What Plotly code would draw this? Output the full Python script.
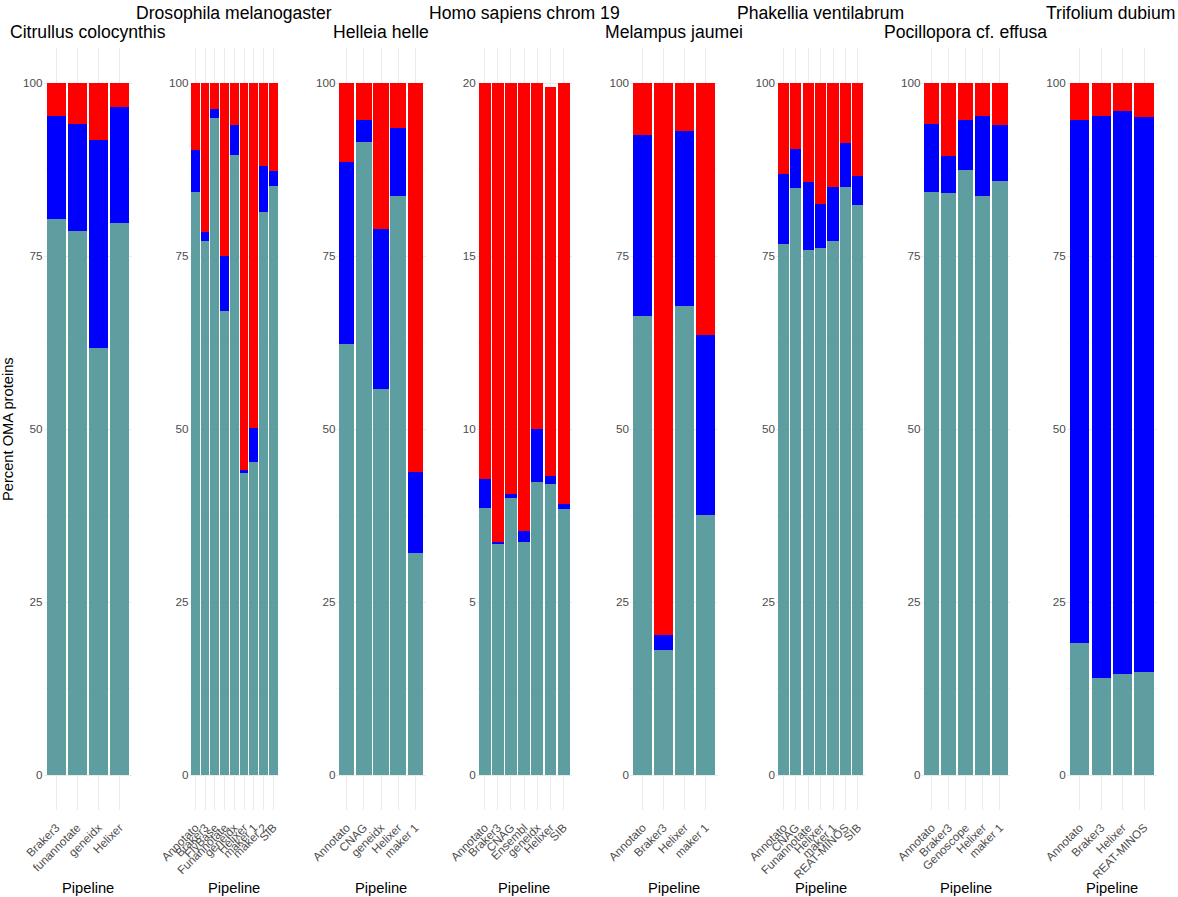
import plotly.graph_objects as go
from plotly.subplots import make_subplots

# segments per pipeline: single (teal), duplicated (blue), missing (red)
citrullus_pipelines = ["Braker3", "funannotate", "geneidx", "Helixer"]
citrullus_single = [80.3, 78.6, 61.7, 79.8]
citrullus_dup = [14.9, 15.5, 30.1, 16.7]
citrullus_miss = [4.8, 5.9, 8.2, 3.5]

drosophila_pipelines = ["Annotato", "Braker3", "FlyBase", "Funannotate", "geneidx",
                        "Helixer", "maker 1", "maker 2", "SIB"]
drosophila_single = [84.3, 77.2, 94.9, 67.0, 89.6, 43.7, 45.3, 81.4, 85.1]
drosophila_dup = [6.0, 1.2, 1.3, 8.0, 4.4, 0.4, 4.9, 6.6, 2.2]
drosophila_miss = [9.7, 21.6, 3.8, 25.0, 6.0, 55.9, 49.8, 12.0, 12.7]

helleia_pipelines = ["Annotato", "CNAG", "geneidx", "Helixer", "maker 1"]
helleia_single = [62.3, 91.5, 55.8, 83.6, 32.1]
helleia_dup = [26.3, 3.2, 23.1, 9.9, 11.7]
helleia_miss = [11.4, 5.3, 21.1, 6.5, 56.2]

homo_pipelines = ["Annotato", "Braker3", "CNAG", "Ensembl", "geneidx", "Helixer", "SIB"]
homo_single = [7.73, 6.67, 8.01, 6.73, 8.47, 8.40, 7.68]
homo_dup = [0.82, 0.06, 0.12, 0.31, 1.54, 0.25, 0.14]
homo_miss = [11.45, 13.27, 11.87, 12.96, 9.99, 11.23, 12.18]

melampus_pipelines = ["Annotato", "Braker3", "Helixer", "maker 1"]
melampus_single = [66.4, 18.0, 67.8, 37.6]
melampus_dup = [26.1, 2.3, 25.2, 26.0]
melampus_miss = [7.5, 79.7, 7.0, 36.4]

phakellia_pipelines = ["Annotato", "CNAG", "Funannotate", "Helixer", "maker 1",
                       "REAT-MINOS", "SIB"]
phakellia_single = [76.8, 84.8, 75.9, 76.2, 77.2, 85.0, 82.4]
phakellia_dup = [10.0, 5.7, 9.8, 6.3, 7.7, 6.3, 4.1]
phakellia_miss = [13.2, 9.5, 14.3, 17.5, 15.1, 8.7, 13.5]

pocillopora_pipelines = ["Annotato", "Braker3", "Genoscope", "Helixer", "maker 1"]
pocillopora_single = [84.3, 84.1, 87.4, 83.6, 85.8]
pocillopora_dup = [9.8, 5.4, 7.3, 11.7, 8.2]
pocillopora_miss = [5.9, 10.5, 5.3, 4.7, 6.0]

trifolium_pipelines = ["Annotato", "Braker3", "Helixer", "REAT-MINOS"]
trifolium_single = [19.1, 14.0, 14.6, 14.9]
trifolium_dup = [75.6, 81.3, 81.3, 80.2]
trifolium_miss = [5.3, 4.7, 4.1, 4.9]

panels = [
    ("Citrullus colocynthis", citrullus_pipelines, citrullus_single, citrullus_dup, citrullus_miss, 100),
    ("Drosophila melanogaster", drosophila_pipelines, drosophila_single, drosophila_dup, drosophila_miss, 100),
    ("Helleia helle", helleia_pipelines, helleia_single, helleia_dup, helleia_miss, 100),
    ("Homo sapiens chrom 19", homo_pipelines, homo_single, homo_dup, homo_miss, 20),
    ("Melampus jaumei", melampus_pipelines, melampus_single, melampus_dup, melampus_miss, 100),
    ("Phakellia ventilabrum", phakellia_pipelines, phakellia_single, phakellia_dup, phakellia_miss, 100),
    ("Pocillopora cf. effusa", pocillopora_pipelines, pocillopora_single, pocillopora_dup, pocillopora_miss, 100),
    ("Trifolium dubium", trifolium_pipelines, trifolium_single, trifolium_dup, trifolium_miss, 100),
]

W, H = 1178, 897
FONT = "Liberation Sans, Arial, Helvetica, sans-serif"
panel_px = [(43.5, 132.2), (189.5, 279.2), (336.4, 425.6), (476.7, 571.5),
            (630.1, 718.0), (776.1, 865.2), (921.4, 1010.1), (1066.8, 1157.0)]
y_top_px, y_bot_px = 48.4, 809.6


def px_x(v):
    return v / W


def px_y(v):
    return 1 - v / H


colors = {"Single": "#5F9EA0", "Duplicated": "#0000FF", "Missing": "#FF0000"}

fig = make_subplots(rows=1, cols=len(panels))
annotations = []

for i, (title, pipes, single, dup, miss, ymax) in enumerate(panels, start=1):
    for label, vals in [("Single", single), ("Duplicated", dup), ("Missing", miss)]:
        fig.add_trace(go.Bar(x=pipes, y=vals, name=label, marker_color=colors[label],
                             marker_line_width=0, showlegend=False), row=1, col=i)

    left, right = panel_px[i - 1]
    sfx = "" if i == 1 else str(i)
    fig.update_layout(**{
        "xaxis" + sfx: dict(
            domain=[px_x(left), px_x(right)], type="category", automargin=False,
            range=[-0.6, len(pipes) - 1 + 0.6],
            tickmode="array", tickvals=pipes, ticktext=pipes, tickangle=-45,
            showgrid=True, gridcolor="#EBEBEB", gridwidth=1,
            showline=False, zeroline=False, ticks="", ticklabelstandoff=8,
            tickfont=dict(family=FONT, size=11.7, color="#4D4D4D"),
        ),
        "yaxis" + sfx: dict(
            domain=[px_y(y_bot_px), px_y(y_top_px)], automargin=False,
            range=[-0.05 * ymax, 1.05 * ymax],
            tickmode="linear", tick0=0, dtick=ymax / 4,
            showgrid=True, gridcolor="#EBEBEB", gridwidth=1,
            minor=dict(dtick=ymax / 8, showgrid=True, gridcolor="#F4F4F4", gridwidth=0.6),
            showline=False, zeroline=False, ticks="",
            tickfont=dict(family=FONT, size=11.7, color="#4D4D4D"),
        ),
    })

    cx = (left + right) / 2
    # titles alternate between two rows; last one pushed in from the right edge
    if i % 2 == 0:
        title_pos = dict(y=px_y(0.5), yanchor="top")
    else:
        title_pos = dict(y=px_y(32), yanchor="middle")
    if i == len(panels):
        title_pos.update(x=px_x(1177), xanchor="right")
    else:
        title_pos.update(x=px_x(cx), xanchor="center")
    annotations.append(dict(text=title, xref="paper", yref="paper", showarrow=False,
                            font=dict(family=FONT, size=17.6, color="black"), **title_pos))
    annotations.append(dict(text="Pipeline", x=px_x(cx), y=px_y(888), xref="paper", yref="paper",
                            xanchor="center", yanchor="middle", showarrow=False,
                            font=dict(family=FONT, size=14.7, color="black")))

annotations.append(dict(text="Percent OMA proteins", x=px_x(8), y=px_y(429),
                        xref="paper", yref="paper", xanchor="center", yanchor="middle",
                        textangle=-90, showarrow=False,
                        font=dict(family=FONT, size=14.7, color="black")))

fig.update_layout(
    width=W, height=H,
    margin=dict(l=0, r=0, t=0, b=0, autoexpand=False),
    barmode="stack", bargap=0.1,
    plot_bgcolor="white", paper_bgcolor="white",
    showlegend=False,
    annotations=annotations,
)

fig.write_html("out.html", config={"displayModeBar": False},
               post_script="document.body.style.margin = '0';")
